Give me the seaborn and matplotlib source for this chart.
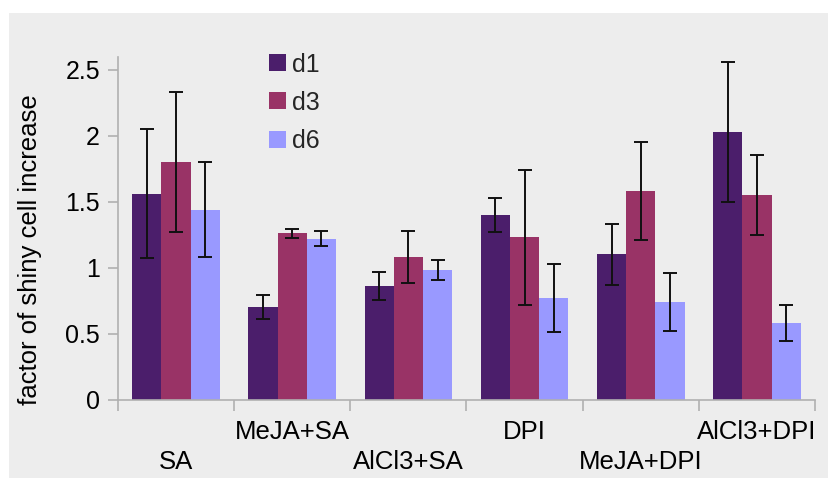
import matplotlib
matplotlib.use("Agg")
import matplotlib.pyplot as plt
import seaborn as sns
import pandas as pd
import numpy as np
from matplotlib.patches import Rectangle, Patch
from matplotlib.ticker import FixedLocator

categories = ["SA", "MeJA+SA", "AlCl3+SA", "DPI", "MeJA+DPI", "AlCl3+DPI"]
days = ["d1", "d3", "d6"]
d1_vals = [1.56, 0.70, 0.86, 1.40, 1.10, 2.03]
d3_vals = [1.80, 1.26, 1.08, 1.23, 1.58, 1.55]
d6_vals = [1.44, 1.22, 0.98, 0.77, 0.74, 0.58]
d1_err = [0.49, 0.09, 0.105, 0.13, 0.23, 0.53]
d3_err = [0.53, 0.035, 0.20, 0.51, 0.37, 0.30]
d6_err = [0.36, 0.06, 0.075, 0.255, 0.22, 0.14]
colors = ["#4b1e6b", "#993366", "#9999ff"]

rows = []
for d, vals, errs in zip(days, [d1_vals, d3_vals, d6_vals], [d1_err, d3_err, d6_err]):
    for c, v, e in zip(categories, vals, errs):
        rows.append({"treatment": c, "day": d, "value": v, "err": e})
df = pd.DataFrame(rows)

sns.set_theme(style="white")
plt.rcParams["font.family"] = ["Liberation Sans", "DejaVu Sans"]

W, H = 829, 478
fig = plt.figure(figsize=(W / 100, H / 100), dpi=100, facecolor="white")
fig.patches.append(Rectangle((9 / W, 0), 1 - 9 / W, 1 - 13 / H, transform=fig.transFigure,
                             facecolor="#ededed", edgecolor="none", zorder=-10))
ax = fig.add_axes([118 / W, 1 - 399.5 / H, (815 - 118) / W, (399.5 - 56.5) / H])
ax.set_facecolor("#ededed")

sns.barplot(data=df, x="treatment", y="value", hue="day", order=categories, hue_order=days,
            palette=colors, errorbar=None, width=0.755, ax=ax, legend=False,
            edgecolor="none", linewidth=0, saturation=1)

for cont, d in zip(ax.containers, days):
    sub = df[df.day == d].set_index("treatment").loc[categories]
    xs = [p.get_x() + p.get_width() / 2 for p in cont.patches]
    ax.errorbar(xs, sub["value"].values, yerr=sub["err"].values, fmt="none",
                ecolor="#111111", elinewidth=1.4, capsize=5, capthick=1.4, zorder=5)

ax.set_xlim(-0.5, 5.5)
ax.set_ylim(0, 2.6)
ax.yaxis.set_major_locator(FixedLocator([0, 0.5, 1, 1.5, 2, 2.5]))
ax.set_yticklabels(["0", "0.5", "1", "1.5", "2", "2.5"])

labels = [("\n" + c) if i % 2 == 0 else c for i, c in enumerate(categories)]
ax.set_xticks(range(len(categories)))
ax.set_xticklabels(labels, linespacing=1.3)
ax.xaxis.set_minor_locator(FixedLocator(np.arange(-0.5, 6.0, 1.0)))
ax.tick_params(axis="x", which="major", length=0, pad=15, labelsize=18.5, labelcolor="black")
ax.tick_params(axis="x", which="minor", length=8, width=1.2, color="#b0b0b0", bottom=True)
ax.tick_params(axis="y", which="major", length=7, width=1.2, color="#b0b0b0", pad=6,
               labelsize=18, labelcolor="black", left=True)

for side in ["top", "right"]:
    ax.spines[side].set_visible(False)
for side in ["left", "bottom"]:
    ax.spines[side].set_visible(True)
    ax.spines[side].set_color("#b0b0b0")
    ax.spines[side].set_linewidth(1.2)

ax.set_xlabel("")
ax.set_ylabel("factor of shiny cell increase", fontsize=18.5, color="black")
ax.yaxis.set_label_coords((42 - 118) / 697, (399.5 - 250) / 343)

handles = [Patch(facecolor=c, edgecolor="none") for c in colors]
ax.legend(handles, days, loc="upper left", bbox_to_anchor=(257 / W, 1 - 40 / H),
          bbox_transform=fig.transFigure, frameon=False, fontsize=18,
          handlelength=0.67, handleheight=0.67, handletextpad=0.25, labelspacing=0.57,
          borderpad=0)

fig.savefig("out.png", dpi=100, facecolor="white")
